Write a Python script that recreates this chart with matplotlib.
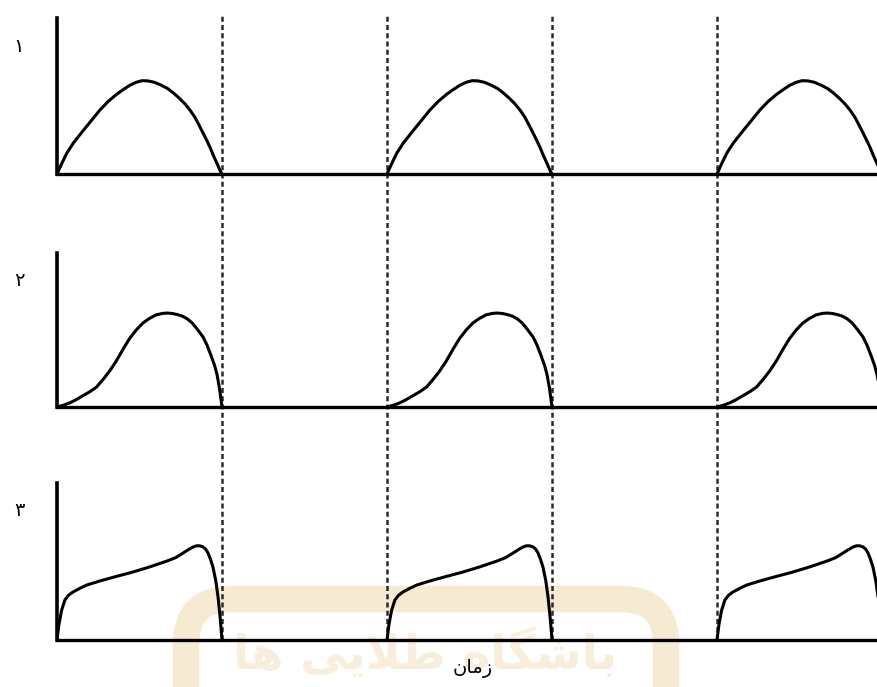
import numpy as np
import matplotlib
matplotlib.use('Agg')
from matplotlib import pyplot as plt
from matplotlib.patches import FancyBboxPatch

# pulse shapes: time within one pulse (0..1), height (0..1 of axis)
t1 = [0, 0.03, 0.06, 0.1, 0.16, 0.21, 0.26, 0.31, 0.36, 0.4, 0.44, 0.48, 0.515, 0.55, 0.59,
      0.63, 0.67, 0.705, 0.74, 0.775, 0.806, 0.835, 0.86, 0.885, 0.91, 0.93, 0.945, 0.96, 0.975, 0.99, 1.0]
y1 = [0, 0.07, 0.135, 0.2, 0.28, 0.345, 0.41, 0.465, 0.51, 0.54, 0.568, 0.588, 0.598, 0.597, 0.588,
      0.57, 0.548, 0.52, 0.487, 0.45, 0.41, 0.365, 0.315, 0.263, 0.21, 0.165, 0.125, 0.09, 0.055, 0.018, 0]

t2 = [0, 0.04, 0.08, 0.12, 0.16, 0.2, 0.24, 0.28, 0.32, 0.36, 0.4, 0.44, 0.48, 0.52, 0.56, 0.6,
      0.64, 0.67, 0.7, 0.73, 0.76, 0.79, 0.82, 0.85, 0.885, 0.91, 0.935, 0.955, 0.97, 0.985, 0.995, 1.0]
y2 = [0, 0.012, 0.028, 0.05, 0.075, 0.1, 0.13, 0.18, 0.235, 0.3, 0.375, 0.445, 0.5, 0.545, 0.575, 0.598,
      0.608, 0.61, 0.607, 0.6, 0.59, 0.572, 0.545, 0.505, 0.455, 0.4, 0.33, 0.27, 0.21, 0.12, 0.04, 0]

t3 = [0, 0.012, 0.028, 0.048, 0.07, 0.097, 0.14, 0.18, 0.26, 0.36, 0.46, 0.56, 0.667, 0.72, 0.764,
      0.8, 0.824, 0.845, 0.865, 0.885, 0.9, 0.915, 0.93, 0.945, 0.962, 0.976, 0.99, 1.0]
y3 = [0, 0.1, 0.19, 0.255, 0.285, 0.306, 0.33, 0.35, 0.376, 0.405, 0.433, 0.465, 0.503, 0.525, 0.554,
      0.578, 0.592, 0.6, 0.6, 0.593, 0.58, 0.555, 0.515, 0.465, 0.38, 0.274, 0.13, 0]

pulse_starts = [0, 2, 4]        # each pulse lasts one time unit
dash_times = [1, 2, 3, 4]
row_labels = ['\u06f1', '\u06f2', '\u06f3']   # ۱ ۲ ۳
xlabel = '\ufee5\ufe8e\ufee3\ufeaf'            # زمان (shaped, visual order)
watermark = '\ufe8e\ufeeb \ufbfd\ufbfe\ufefc\ufec3 \ufee9\ufe8e\ufb95\ufeb7\ufe8e\ufe91'  # باشگاه طلایی ها

W, H = 877, 687
fig = plt.figure(figsize=(W / 100, H / 100), dpi=100)
fig.patch.set_facecolor('white')

# watermark layer (pixel coords, y downwards)
bg = fig.add_axes([0, 0, 1, 1], zorder=0)
bg.set_xlim(0, W)
bg.set_ylim(H, 0)
bg.axis('off')
bg.add_patch(FancyBboxPatch((186, 599), 480, 140, boxstyle='round,pad=0,rounding_size=45',
                            fill=False, edgecolor='#f7ead2', linewidth=19))
bg.text(425, 654, watermark, color='#f9eedb', fontsize=34, fontweight='bold',
        ha='center', va='center', family='DejaVu Sans')

xmax = (W - 57) / 165
left = 57 / W
rows = [(t1, y1, 174, 18), (t2, y2, 407, 253), (t3, y3, 640, 483)]
for i, (t, y, base, top) in enumerate(rows):
    ax = fig.add_axes([left, (H - base) / H, 1 - left, (base - top) / H], zorder=2)
    ax.patch.set_alpha(0)
    for s in pulse_starts:
        ax.plot(np.array(t) + s, y, color='black', lw=2.2, solid_capstyle='round', solid_joinstyle='round')
    ax.set_xlim(0, xmax)
    ax.set_ylim(0, 1)
    ax.set_xticks([]), ax.set_yticks([])
    ax.spines['top'].set_visible(False)
    ax.spines['right'].set_visible(False)
    ax.spines['left'].set_linewidth(2.6)
    ax.spines['bottom'].set_linewidth(2.4)
    fig.text(19 / W, 1 - (top + 28) / H, row_labels[i], fontsize=14, ha='center', va='center',
             family='DejaVu Sans')

# dashed separators through all rows
dl = fig.add_axes([left, (H - 640) / H, 1 - left, (640 - 14) / H], zorder=1)
dl.set_xlim(0, xmax)
dl.set_ylim(0, 1)
dl.axis('off')
dl.vlines(dash_times, 0, 1, colors='#2a2a2a', linestyles=(0, (2.0, 1.3)), lw=1.8)

fig.text(473 / W, 1 - 668 / H, xlabel, fontsize=14, ha='center', va='center', family='DejaVu Sans')

fig.savefig('out.png', dpi=100)
